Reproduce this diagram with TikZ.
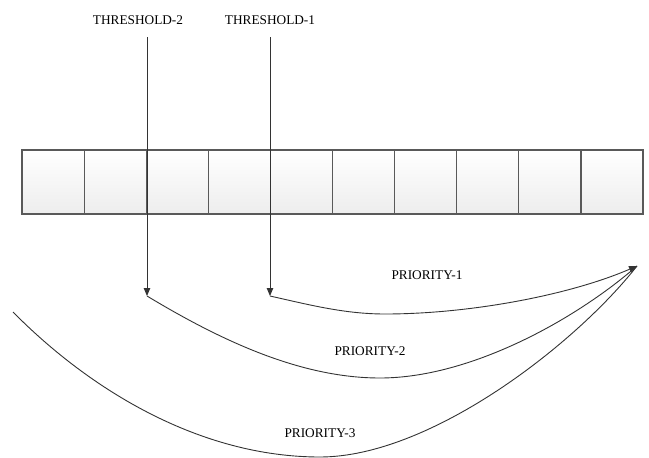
\documentclass[tikz,border=0pt]{standalone}
\usepackage{fontspec}
\setmainfont{Liberation Serif}
\usetikzlibrary{arrows.meta,shadows}
\begin{document}
\begin{tikzpicture}[x=1pt,y=-1pt,
  cell/.style={draw=black!65, line width=1.2pt, top color=white, bottom color=black!7,
    minimum width=62.1pt, minimum height=64pt, inner sep=0pt, outer sep=0pt,
    drop shadow={shadow xshift=1pt, shadow yshift=-1pt, fill=black!35, opacity=1}},
  lbl/.style={font=\fontsize{13.3}{16}\selectfont, inner sep=0pt},
  conn/.style={draw=black!80, line width=0.9pt},
  tip/.style={-{Triangle[length=8pt,width=6.5pt]}}
]
\useasboundingbox (0,0) rectangle (649,458);
% queue cells
\foreach \i in {1,...,10}
  \node[cell] (b\i) at ({22+62.1*(\i-0.5)},182) {};
% threshold labels and pointers
\node[lbl] (t2) at (138,20.5) {THRESHOLD-2};
\node[lbl] (t1) at (270,20.5) {THRESHOLD-1};
\coordinate (t2s) at (147,37);
\coordinate (t2e) at (147,296);
\coordinate (t1s) at (270,37);
\coordinate (t1e) at (270,296);
\draw[conn,tip] (t2s) -- (t2e);
\draw[conn,tip] (t1s) -- (t1e);
% curves
\coordinate (hub) at (637,266);
\coordinate (p1m) at (385,314);
\coordinate (p2m) at (380,378);
\coordinate (p3s) at (13,312);
\coordinate (p3m) at (320,457);
\draw[conn] (t2e) .. controls (220,340) and (300,378) .. (p2m)
  .. controls (470,378) and (575,320) .. (hub);
\draw[conn] (p3s) .. controls (90,390) and (200,457) .. (p3m)
  .. controls (430,457) and (575,345) .. (hub);
\draw[conn,tip] (t1e) .. controls (310,305) and (345,314) .. (p1m)
  .. controls (470,314) and (570,295) .. (hub);
% priority labels
\node[lbl] (pr1) at (427,275) {PRIORITY-1};
\node[lbl] (pr2) at (370,351) {PRIORITY-2};
\node[lbl] (pr3) at (320,433) {PRIORITY-3};
\end{tikzpicture}
\end{document}
